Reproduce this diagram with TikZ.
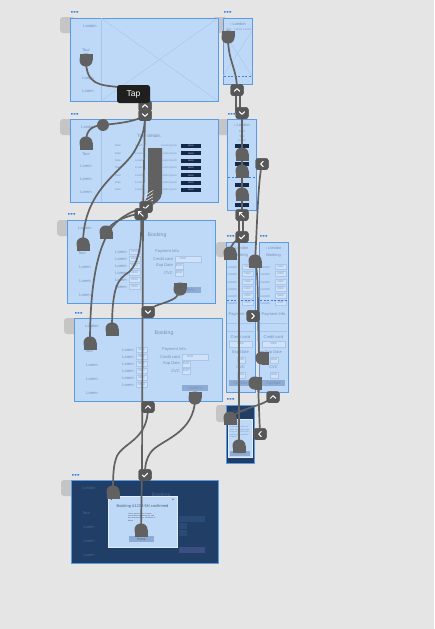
\documentclass[tikz,border=0pt]{standalone}
\usepackage{fontspec}
\setmainfont{Liberation Sans}
\newfontfamily\symfont{DejaVu Sans}
\definecolor{bgc}{HTML}{E5E5E5}
\definecolor{frm}{HTML}{BED9F7}
\definecolor{frmb}{HTML}{5B9AE5}
\definecolor{txt}{HTML}{7990B6}
\definecolor{dark}{HTML}{213E66}
\definecolor{dtxt}{HTML}{4A6892}
\definecolor{wirec}{HTML}{616161}
\definecolor{badgec}{HTML}{575757}
\definecolor{tabc}{HTML}{C5C5C5}
\definecolor{dotc}{HTML}{3A80E3}
\definecolor{btnc}{HTML}{15294A}
\definecolor{cbtnc}{HTML}{8EABD3}
\definecolor{boxc}{HTML}{CFE2F8}
\definecolor{boxb}{HTML}{A9C6EA}
\definecolor{xlc}{HTML}{A6C5EC}
\definecolor{dbox}{HTML}{2B4B77}
\definecolor{dcbtn}{HTML}{3D4F80}
\tikzset{
  frame/.style={draw=frmb, fill=frm, line width=0.9pt, anchor=north west, inner sep=0pt, outer sep=0pt},
  dframe/.style={frame, fill=dark},
  lbl/.style={text=txt, font=\fontsize{4}{4.5}\selectfont, inner sep=0pt},
  smalllbl/.style={lbl, font=\fontsize{2.7}{3}\selectfont},
  titlelbl/.style={lbl, font=\fontsize{5.2}{6}\selectfont},
  wire/.style={draw=wirec, line width=1.7pt},
  badge/.style={fill=badgec, rounded corners=2.5pt, minimum width=13pt, minimum height=11.5pt, inner sep=0pt},
  icon/.style={draw=white, line width=1pt, line cap=round, line join=round},
  inbox/.style={fill=boxc, draw=boxb, line width=0.3pt},
  cbtn/.style={fill=cbtnc},
  xline/.style={draw=xlc, line width=0.4pt},
  sline/.style={draw=xlc, line width=0.5pt},
  dashl/.style={draw=dotc, dash pattern=on 2pt off 1.5pt, line width=0.6pt},
  divl/.style={draw=xlc, line width=0.3pt},
  tabsh/.style={fill=tabc, rounded corners=3pt},
  plugT/.pic={\fill[wirec, rounded corners=6pt] (-6.5,-6.5) rectangle (6.5,6.5); \fill[wirec] (-6.5,0) rectangle (6.5,6.5);},
  plugB/.pic={\fill[wirec, rounded corners=6pt] (-6.5,-6.5) rectangle (6.5,6.5); \fill[wirec] (-6.5,-6.5) rectangle (6.5,0);},
  plugL/.pic={\fill[wirec, rounded corners=6pt] (-6.5,-6.5) rectangle (6.5,6.5); \fill[wirec] (0,-6.5) rectangle (6.5,6.5);},
  dotsm/.pic={\fill[dotc] (0,0) rectangle (1.7,1.7) (2.7,0) rectangle (4.4,1.7) (5.4,0) rectangle (7.1,1.7);},
  bookpage/.pic={
    \node[lbl] (-lon) at (18,8) {London};
    \node[lbl] (-tour) at (15,33) {Tour};
    \foreach \yy [count=\i] in {47,61,75} \node[lbl] (-side\i) at (18,\yy) {Lorem};
    \node[titlelbl] (-bk) at (90,15) {Booking};
    \fill[inbox] (108,36) rectangle (134,42);
    \fill[inbox] (108,43) rectangle (116,49);
    \fill[inbox] (108,50) rectangle (116,56);
    \fill[cbtn] (108,67) rectangle (134,73);
  },
  bookrows/.pic={
    \foreach \yy [count=\i] in {32,39,46,53,60,67} {
      \node[lbl, anchor=east] (-l\i) at (60,\yy) {Lorem};
      \fill[inbox] (62,\yy-2.5) rectangle (73,\yy+2.5);
      \node[smalllbl] (-v\i) at (67.5,\yy) {0000};
    }
    \node[lbl, anchor=west] (-pi) at (88,31) {Payment Info};
    \node[lbl, anchor=east] (-cc) at (106,39) {Credit card};
    \node[smalllbl] (-ccv) at (116,39) {0000};
    \node[lbl, anchor=east] (-ed) at (106,46) {Exp Date};
    \node[smalllbl] (-edv) at (112,46) {0000};
    \node[lbl, anchor=east] (-cvc) at (106,53) {CVC};
    \node[smalllbl] (-cvcv) at (112,53) {0000};
    \node[lbl] (-cf) at (121,70) {Confirm};
  },
  mobbook/.pic={
    \node[lbl] (-lon) at (14.5,6) {‹ London};
    \node[lbl] (-bk) at (14.5,13) {Booking};
    \foreach \yy [count=\i] in {25,32,40,47,54,61} {
      \node[smalllbl, font=\fontsize{3.2}{3.5}\selectfont, anchor=west] (-l\i) at (1.5,\yy) {Lorem};
      \fill[inbox] (16,\yy-2.5) rectangle (27,\yy+2.5);
      \node[smalllbl] (-v\i) at (21.5,\yy) {0000};
    }
    \draw[dashl] (1,58) -- (28,58);
    \node[lbl] (-pi) at (14.5,72) {Payment Info};
    \draw[divl] (1,81) -- (28,81) (1,89) -- (28,89);
    \node[lbl] (-cc) at (14.5,95) {Credit card};
    \fill[inbox] (3,99) rectangle (26,105);
    \node[smalllbl] (-ccv) at (14.5,102) {0000};
    \node[lbl] (-ed) at (14.5,111) {Exp Date};
    \fill[inbox] (11,115) rectangle (19,121);
    \node[smalllbl] (-edv) at (15,118) {0000};
    \node[lbl] (-cvc) at (14.5,125) {CVC};
    \fill[inbox] (11,130) rectangle (19,136);
    \node[smalllbl] (-cvcv) at (15,133) {0000};
    \fill[cbtn] (3,138) rectangle (26,144);
    \node[lbl] (-cf) at (14.5,141) {Confirm};
  },
}
\newcommand\bicUp[1]{\draw[icon] ([shift={(-2.6,1.3)}]#1.center) -- ([shift={(0,-1.3)}]#1.center) -- ([shift={(2.6,1.3)}]#1.center);}
\newcommand\bicDn[1]{\draw[icon] ([shift={(-2.6,-1.3)}]#1.center) -- ([shift={(0,1.3)}]#1.center) -- ([shift={(2.6,-1.3)}]#1.center);}
\newcommand\bicLt[1]{\draw[icon] ([shift={(1.3,-2.6)}]#1.center) -- ([shift={(-1.3,0)}]#1.center) -- ([shift={(1.3,2.6)}]#1.center);}
\newcommand\bicRt[1]{\draw[icon] ([shift={(-1.3,-2.6)}]#1.center) -- ([shift={(1.3,0)}]#1.center) -- ([shift={(-1.3,2.6)}]#1.center);}
\newcommand\bicChk[1]{\draw[icon] ([shift={(-2.6,0)}]#1.center) -- ([shift={(-0.8,1.8)}]#1.center) -- ([shift={(2.6,-1.8)}]#1.center);}
\newcommand\bicDiag[1]{\draw[icon] ([shift={(2.2,2.2)}]#1.center) -- ([shift={(-2.2,-2.2)}]#1.center); \draw[icon] ([shift={(-2.2,0.2)}]#1.center) -- ([shift={(-2.2,-2.2)}]#1.center) -- ([shift={(0.2,-2.2)}]#1.center);}
\begin{document}
\begin{tikzpicture}[x=1pt,y=-1pt]
\useasboundingbox (0,0) rectangle (434,629);
\fill[bgc] (0,0) rectangle (434,629);

% ---------- tabs ----------
\fill[tabsh] (60,17) rectangle (75,33);
\fill[tabsh] (213,17) rectangle (227,33);
\fill[tabsh] (60,119) rectangle (74,135);
\fill[tabsh] (217,119) rectangle (231,135);
\fill[tabsh] (57,220) rectangle (71,236);
\fill[tabsh] (216,242) rectangle (230,257);
\fill[tabsh] (64,318) rectangle (78,334);
\fill[tabsh] (216,405) rectangle (230,422);
\fill[tabsh] (61,480) rectangle (75,496);

% ---------- dots ----------
\pic at (71,11) {dotsm};
\pic at (224,11) {dotsm};
\pic at (71,113) {dotsm};
\pic at (228,113) {dotsm};
\pic at (68,213) {dotsm};
\pic at (227,235) {dotsm};
\pic at (260,235) {dotsm};
\pic at (75,312) {dotsm};
\pic at (227,398) {dotsm};
\pic at (72,474) {dotsm};

% ---------- frame 1 ----------
\node[frame, minimum width=148pt, minimum height=83pt] (f1) at (70,18) {};
\draw[xline] (101,18) -- (218,101) (101,101) -- (218,18);
\draw[sline] (101,18) -- (101,101);
\node[lbl] (f1lon) at (90,26) {London};
\node[lbl] (f1tour) at (86,50) {Tour};
\node[lbl] (f1s1) at (88,78) {Lorem};
\node[lbl] (f1s2) at (88,91) {Lorem};

% ---------- frame 1 right ----------
\node[frame, minimum width=29pt, minimum height=66pt] (f1r) at (223,18) {};
\draw[xline] (223,31) -- (252,76) (252,31) -- (223,76);
\node[lbl] (f1rl) at (238,24) {‹ London};
\node[smalllbl] (f1rt1) at (229,29.5) {Tour};
\node[smalllbl] (f1rt2) at (238.5,29.5) {Lorem};
\node[smalllbl] (f1rt3) at (247.5,29.5) {Lorem};
\draw[dashl] (224,76) -- (251,76);

% ---------- frame 2 ----------
\node[frame, minimum width=148pt, minimum height=83pt] (f2) at (70,119) {};
\draw[sline] (101,119) -- (101,202);
\node[lbl] (f2lon) at (88,127) {London};
\node[lbl] (f2tour) at (86,154) {Tour};
\foreach \yy [count=\i] in {166,179,192} \node[lbl] (f2s\i) at (86,\yy) {Lorem};
\node[lbl, font=\fontsize{4.6}{5}\selectfont] (f2t) at (149,136) {Tour details};
\foreach \yy [count=\i] in {146,153.3,160.6,168,175.3,182.6,190} {
  \node[smalllbl] (f2a\i) at (118,\yy) {Date};
  \node[smalllbl] (f2b\i) at (139,\yy) {Lorem};
  \node[smalllbl] (f2c\i) at (169,\yy) {Lorem ipsum};
  \fill[btnc] (181,\yy-2) rectangle (201,\yy+2);
  \node[lbl, text=white!75!btnc, font=\fontsize{2.4}{3}\selectfont] (f2d\i) at (191,\yy) {Book};
}

% ---------- frame 2 right ----------
\node[frame, minimum width=29pt, minimum height=91pt] (f2r) at (227,119) {};
\node[lbl] (f2rl) at (242,125.5) {‹ London};
\node[smalllbl] (f2rp1) at (242,132) {Paris};
\node[smalllbl] (f2rp2) at (242,136.5) {Tour};
\node[smalllbl] (f2rp3) at (242,141) {Lorem};
\foreach \yy in {146,164,185,205} \fill[btnc] (235,\yy-2) rectangle (249,\yy+2);
\draw[dashl] (228,177) -- (255,177);

% ---------- frame 3 ----------
\node[frame, minimum width=148pt, minimum height=83pt] (f3) at (67,220) {};
\pic (pg3) at (67,220) {bookpage};
\pic (pr3r) at (67,220) {bookrows};

% ---------- frame 3 mobile ----------
\node[frame, minimum width=29pt, minimum height=150pt] (f3a) at (226,242) {};
\pic (pg3a) at (226,242) {mobbook};
\node[frame, minimum width=29pt, minimum height=150pt] (f3b) at (259,242) {};
\pic (pg3b) at (259,242) {mobbook};

% ---------- frame 4 ----------
\node[frame, minimum width=148pt, minimum height=83pt] (f4) at (74,318) {};
\pic (pg4) at (74,318) {bookpage};
\pic (pr4r) at (74,318) {bookrows};

% ---------- frame 5 (dark mobile) ----------
\node[dframe, minimum width=28pt, minimum height=58pt] (f5) at (226,405) {};
\node[lbl, text=dtxt] (f5l) at (240,411) {London};
\node[fill=frm, draw=white!55!frm, line width=0.4pt, anchor=north west, minimum width=24pt, minimum height=38pt, inner sep=0pt] (f5p) at (228,419) {};
\node[lbl, font=\fontsize{1.9}{2.4}\selectfont, text width=21pt, align=left] (f5txt) at (240,432) {Lorem ipsum dolor sit amet, consectetur adipiscing elit, sed do eiusmod tempor incididunt ut labore.};
\fill[cbtnc] (230,451) rectangle (250,456);
\node[lbl, font=\fontsize{2.8}{3}\selectfont] (f5h) at (240,453.5) {Home};

% ---------- frame 6 (dark dialog) ----------
\node[dframe, minimum width=147pt, minimum height=83pt] (f6) at (71,480) {};
\begin{scope}[lbl/.style={text=dtxt, font=\fontsize{4}{4.5}\selectfont, inner sep=0pt},
              inbox/.style={fill=dbox}, cbtn/.style={fill=dcbtn}]
\pic (pg6) at (71,480) {bookpage};
\end{scope}
\node[fill=frm, draw=white!55!frm, line width=0.5pt, anchor=north west, minimum width=69pt, minimum height=51pt, inner sep=0pt] (dlg) at (108,496) {};
\node[lbl, text=black!60!txt, font=\symfont\fontsize{3}{3}\selectfont] (dla) at (111.5,499.5) {◂};
\node[lbl, text=black!60!txt, font=\symfont\fontsize{3}{3}\selectfont] (dlb) at (173.5,499.5) {▸};
\node[lbl, text=black!35!txt, font=\fontsize{4}{5}\selectfont] (dlt) at (142.5,506) {Booking \#1234-5H confirmed};
\node[lbl, text=black!35!txt, font=\fontsize{1.9}{2.3}\selectfont, text width=28pt, align=left] (dltxt) at (142,517) {Lorem ipsum dolor sit amet, consectetur adipiscing elit, sed do eiusmod tempor incididunt ut labore.};
\fill[cbtnc] (129,536) rectangle (154,542);
\node[lbl, text=black!35!txt, font=\fontsize{3.2}{4}\selectfont] (dlh) at (141.5,539.5) {Home};

% ---------- F2 scroll bundle ----------
\fill[wirec] (148,148) -- (162,148) -- (162,193) .. controls (162,200) and (154,204) .. (148,208) -- (143,208) .. controls (145,200) and (148,197) .. (148,190) -- cycle;
\foreach \k in {0,...,4} \draw[white, line width=0.5pt] (145.5,195+3.2*\k) -- (153,190.5+3.2*\k);

% ---------- named anchor points (plugs) ----------
\coordinate (p1) at (86,60);
\coordinate (p2) at (228,37);
\coordinate (p3) at (86,143);
\coordinate (pr1) at (242,154);
\coordinate (pr2) at (242,171);
\coordinate (pr3) at (242,194);
\coordinate (p4) at (83,244);
\coordinate (p5) at (106,232);
\coordinate (p14) at (230,253);
\coordinate (p12) at (255,261);
\coordinate (p8) at (180,289);
\coordinate (p6) at (90,343);
\coordinate (p7) at (112,329);
\coordinate (p9) at (195,398);
\coordinate (p15) at (262,358);
\coordinate (p16b) at (255,383);
\coordinate (p16) at (230,418);
\coordinate (p13) at (239,446);
\coordinate (p10) at (113,492);
\coordinate (p11) at (141,530);

% ---------- badges (nodes) ----------
\node[badge] (b1d) at (145,115) {};
\node[badge] (b1u) at (145,106) {};
\node[badge] (b2u) at (237,90) {};
\node[badge] (b2d) at (242,113) {};
\node[badge] (bl) at (262,164) {};
\node[badge] (bx) at (242,215) {};
\node[badge] (bc) at (242,237) {};
\node[badge] (bc2) at (146,207) {};
\node[badge] (ba2) at (141,214) {};
\node[badge] (bd3) at (148,312) {};
\node[badge] (bu4) at (148,407) {};
\node[badge] (bc3) at (145,475) {};
\node[badge] (br) at (253,316) {};
\node[badge] (bu5) at (273,397) {};
\node[badge] (bl2) at (260,434) {};
\node[circle, fill=wirec, minimum size=12pt, inner sep=0pt] (c1) at (103,125) {};

% ---------- wires ----------
\draw[wire] (p1) .. controls (86,85) and (100,85) .. (118,87) .. controls (134,89) and (144,94) .. (b1u.center);
\draw[wire] (c1.center) .. controls (122,123) and (138,121) .. (b1d.center);
\draw[wire] (c1.center) .. controls (90,126) and (86,131) .. (p3);
\draw[wire] (p4) .. controls (83,190) and (122,172) .. (134,152) .. controls (142,138) and (145,130) .. (b1d.center);
\draw[wire] (p5) .. controls (110,222) and (130,214) .. (ba2.center);
\draw[wire] (p6) .. controls (90,290) and (96,252) .. (110,230) .. controls (120,215) and (136,210) .. (bc2.center);
\draw[wire] (p7) .. controls (112,286) and (118,279) .. (129,272) .. controls (140,262) and (142,240) .. (ba2.center);
\draw[wire] (p11) -- (142,470) -- (143,215) -- (b1d.center);
\draw[wire] (p8) .. controls (180,304) and (152,302) .. (bd3.center);
\draw[wire] (p9) .. controls (195,434) and (160,440) .. (151,452) .. controls (146,459) and (145,465) .. (bc3.center);
\draw[wire] (bu4.center) .. controls (148,440) and (124,442) .. (117,456) .. controls (113,465) and (113,478) .. (p10);
% right side
\draw[wire] (p2) .. controls (228,62) and (237,68) .. (b2u.center);
\draw[wire] ([xshift=-1pt]b2u.center) -- ([xshift=-6pt]b2d.center);
\draw[wire] ([xshift=3pt]b2u.center) -- ([xshift=-2pt]b2d.center);
\draw[wire] (b2d.center) -- (bx.center);
\draw[wire] ([xshift=-3pt]bx.center) -- ([xshift=-3pt]bc.center);
\draw[wire] ([xshift=1pt]bx.center) -- ([xshift=1pt]bc.center);
\draw[wire] ([xshift=-3pt]bc.center) -- (p13);
\draw[wire] (p14) .. controls (230,244) and (236,240) .. (bc.center);
\draw[wire] (bl.center) .. controls (258,180) and (257,230) .. (p12);
\draw[wire] (p12) .. controls (258,270) and (258,300) .. ([xshift=5pt]br.center);
\draw[wire] ([xshift=5pt]br.center) -- ([xshift=-3pt]p15);
\draw[wire] ([xshift=3pt]p16b) -- (bl2.center);
\draw[wire] (bu5.center) .. controls (262,407) and (245,406) .. (p16);

% ---------- plugs ----------
\pic at (p1) {plugB};
\pic at (p2) {plugB};
\pic at (p3) {plugT};
\pic at (pr1) {plugT};
\pic at (pr2) {plugT};
\pic at (pr3) {plugT};
\pic at (p4) {plugT};
\pic at (p5) {plugT};
\pic at (p14) {plugT};
\pic at (p12) {plugT};
\pic at (p8) {plugB};
\pic at (p6) {plugT};
\pic at (p7) {plugT};
\pic at (p9) {plugB};
\pic at (p15) {plugL};
\pic at (p16b) {plugL};
\pic at (p16) {plugT};
\pic at (p13) {plugT};
\pic at (p10) {plugT};
\pic at (p11) {plugT};

% ---------- badges on top ----------
\node[badge] (b1dt) at (b1d) {}; \bicDn{b1dt}
\node[badge] (b1ut) at (b1u) {}; \bicUp{b1ut}
\node[badge] (b2ut) at (b2u) {}; \bicUp{b2ut}
\node[badge] (b2dt) at (b2d) {}; \bicDn{b2dt}
\node[badge] (blt) at (bl) {}; \bicLt{blt}
\node[badge] (bxt) at (bx) {}; \bicDiag{bxt}
\node[badge] (bct) at (bc) {}; \bicChk{bct}
\node[badge] (bc2t) at (bc2) {}; \bicChk{bc2t}
\node[badge] (ba2t) at (ba2) {}; \bicDiag{ba2t}
\node[badge] (bd3t) at (bd3) {}; \bicDn{bd3t}
\node[badge] (bu4t) at (bu4) {}; \bicUp{bu4t}
\node[badge] (bc3t) at (bc3) {}; \bicChk{bc3t}
\node[badge] (brt) at (br) {}; \bicRt{brt}
\node[badge] (bu5t) at (bu5) {}; \bicUp{bu5t}
\node[badge] (bl2t) at (bl2) {}; \bicLt{bl2t}

% ---------- tooltip ----------
\node[fill=black!88, rounded corners=2.5pt, text=white, font=\fontsize{8.5}{9}\selectfont, minimum width=33pt, minimum height=18pt, inner sep=0pt] (tap) at (133.5,94) {Tap};
\end{tikzpicture}
\end{document}
